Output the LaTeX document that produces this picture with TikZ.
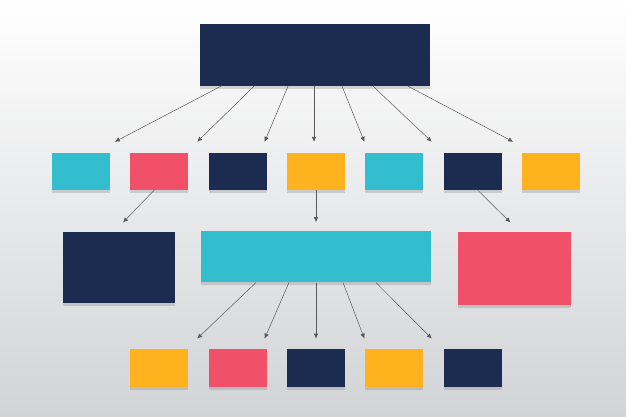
\documentclass[tikz,border=0pt]{standalone}
\usepackage{tikz}
\usetikzlibrary{positioning,arrows.meta,shadows}

\definecolor{navy}{RGB}{27,44,80}
\definecolor{turq}{RGB}{50,190,206}
\definecolor{coral}{RGB}{240,80,104}
\definecolor{amber}{RGB}{253,178,30}
\definecolor{fond}{RGB}{210,211,214}

\tikzset{
	boite/.style={rectangle, inner sep=0pt, drop shadow={shadow xshift=0pt, shadow yshift=-3pt, opacity=0.3}},
	petite/.style={boite, minimum width=58pt, minimum height=37pt},
	fleche/.style={draw=black!65, line width=0.5pt, -{Latex[length=5pt, width=4.5pt]}}
}

\begin{document}
\begin{tikzpicture}[x=1pt, y=1pt]
			\fill[top color=white, bottom color=fond] (0,0) rectangle (626,417);
			\useasboundingbox (0,0) rectangle (626,417);
			
			\node[boite, fill=navy, minimum width=230pt, minimum height=62pt] (haut) at (315,362) {};
			
			% premiere rangee
			\node[petite, fill=amber] (a4) at (316,245.5) {};
			\node[petite, fill=navy, left=20pt of a4] (a3) {};
			\node[petite, fill=coral, left=20pt of a3] (a2) {};
			\node[petite, fill=turq, left=20pt of a2] (a1) {};
			\node[petite, fill=turq, right=20pt of a4] (a5) {};
			\node[petite, fill=navy, right=20pt of a5] (a6) {};
			\node[petite, fill=amber, right=20pt of a6] (a7) {};
			
			% deuxieme rangee
			\node[boite, fill=turq, minimum width=230pt, minimum height=51pt, below=41pt of a4] (milieu) {};
			\node[boite, fill=navy, minimum width=112pt, minimum height=71pt, anchor=north] (gauche) at (119,185.5) {};
			\node[boite, fill=coral, minimum width=113pt, minimum height=73pt, anchor=north] (droite) at (514.5,185.5) {};
			
			% troisieme rangee
			\node[petite, fill=navy, minimum height=38pt, below=66pt of milieu] (b3) {};
			\node[petite, fill=coral, minimum height=38pt, left=20pt of b3] (b2) {};
			\node[petite, fill=amber, minimum height=38pt, left=20pt of b2] (b1) {};
			\node[petite, fill=amber, minimum height=38pt, right=20pt of b3] (b4) {};
			\node[petite, fill=navy, minimum height=38pt, right=20pt of b4] (b5) {};
			
			\path [fleche] ([xshift=-94pt]haut.south) -- ([xshift=34pt, yshift=11pt]a1.north);
			\path [fleche] ([xshift=-61pt]haut.south) -- ([xshift=38pt, yshift=11pt]a2.north);
			\path [fleche] ([xshift=-27pt]haut.south) -- ([xshift=27pt, yshift=11pt]a3.north);
			\path [fleche] ([xshift=-1pt]haut.south) -- ([xshift=-2pt, yshift=11pt]a4.north);
			\path [fleche] ([xshift=27pt]haut.south) -- ([xshift=-30pt, yshift=11pt]a5.north);
			\path [fleche] ([xshift=58pt]haut.south) -- ([xshift=-41pt, yshift=11pt]a6.north);
			\path [fleche] ([xshift=93pt]haut.south) -- ([xshift=-38pt, yshift=11pt]a7.north);
			
			\path [fleche] ([xshift=-5pt]a2.south) -- ([xshift=4pt, yshift=9pt]gauche.north);
			\path [fleche] (a4.south) -- ([yshift=9pt]milieu.north);
			\path [fleche] ([xshift=5pt]a6.south) -- ([xshift=-4pt, yshift=9pt]droite.north);
			
			\path [fleche] ([xshift=-60pt]milieu.south) -- ([xshift=38pt, yshift=10pt]b1.north);
			\path [fleche] ([xshift=-27pt]milieu.south) -- ([xshift=27pt, yshift=10pt]b2.north);
			\path [fleche] (milieu.south) -- ([yshift=10pt]b3.north);
			\path [fleche] ([xshift=27pt]milieu.south) -- ([xshift=-30pt, yshift=10pt]b4.north);
			\path [fleche] ([xshift=60pt]milieu.south) -- ([xshift=-41pt, yshift=10pt]b5.north);
		\end{tikzpicture}
\end{document}
